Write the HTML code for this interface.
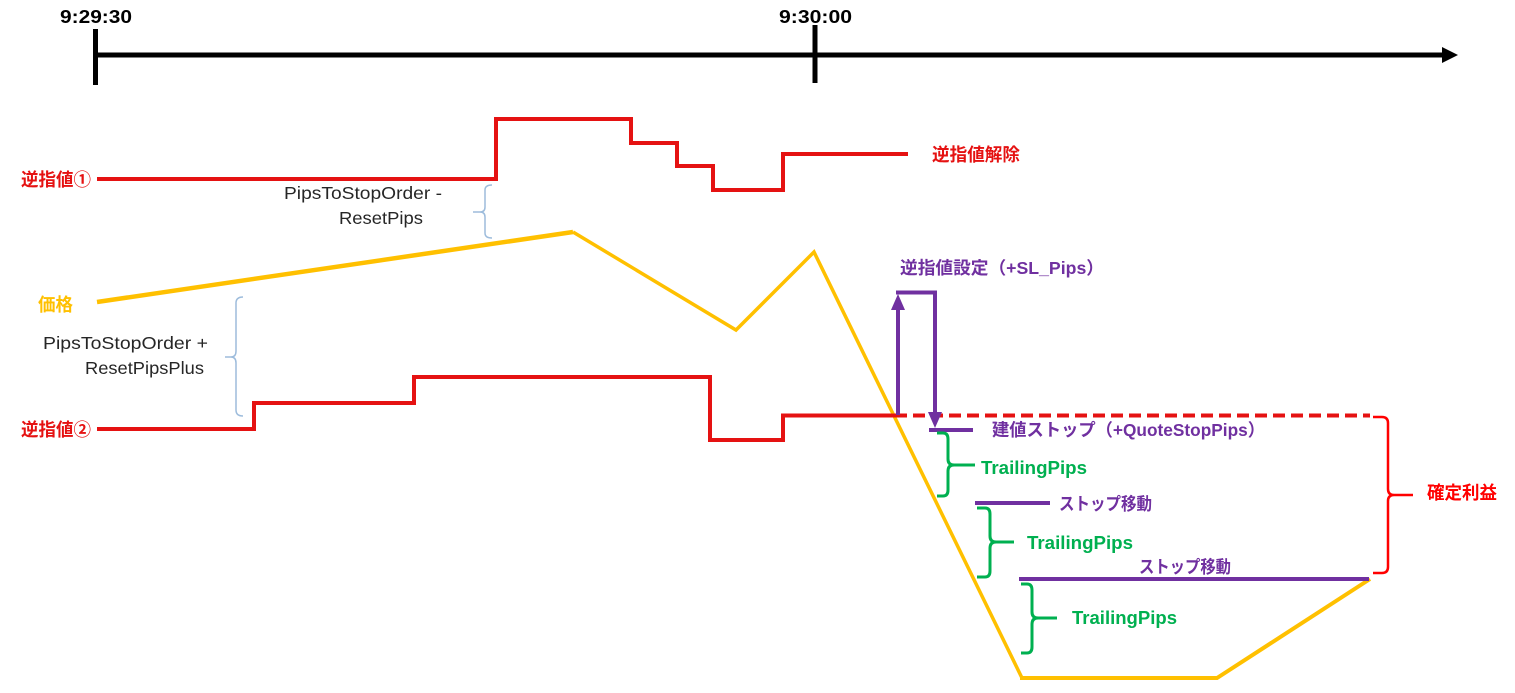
<!DOCTYPE html>
<html>
<head>
<meta charset="utf-8">
<style>
  html,body{margin:0;padding:0;background:#fff;}
  svg{display:block;}
  text{font-family:"Liberation Sans","Noto Sans CJK JP",sans-serif;dominant-baseline:central;}
  .b{font-weight:bold;}
  .g{fill:#262626;font-size:17.5px;}
</style>
</head>
<body>
<svg width="1515" height="693" viewBox="0 0 1515 693" xmlns="http://www.w3.org/2000/svg">
  <!-- Timeline -->
  <line x1="95" y1="55" x2="1444" y2="55" stroke="#000" stroke-width="5"/>
  <polygon points="1442,47 1458,55 1442,63" fill="#000"/>
  <line x1="95.5" y1="29" x2="95.5" y2="85" stroke="#000" stroke-width="5"/>
  <line x1="815" y1="25" x2="815" y2="83" stroke="#000" stroke-width="5"/>
  <text class="b" x="60" y="17" font-size="18" textLength="72" lengthAdjust="spacingAndGlyphs">9:29:30</text>
  <text class="b" x="779" y="17" font-size="18" textLength="73" lengthAdjust="spacingAndGlyphs">9:30:00</text>

  <!-- Stop order 1 -->
  <polyline points="97,179 496,179 496,119 631,119 631,143 677,143 677,166 713,166 713,190 783,190 783,154 908,154" fill="none" stroke="#e51212" stroke-width="4"/>
  <text class="b" x="21" y="180" font-size="18" fill="#e51212" textLength="70" lengthAdjust="spacingAndGlyphs">逆指値①</text>
  <text class="b" x="932" y="155" font-size="18" fill="#e51212" textLength="88" lengthAdjust="spacingAndGlyphs">逆指値解除</text>

  <!-- Blue brace A -->
  <path d="M492,185 Q485,185 485,190 L485,207 Q485,212 480,212 L473,212 M480,212 Q485,212 485,217 L485,233 Q485,238 492,238" fill="none" stroke="#9dbcdc" stroke-width="1.5"/>
  <text class="g" x="284" y="193" textLength="158" lengthAdjust="spacingAndGlyphs">PipsToStopOrder -</text>
  <text class="g" x="339" y="218" textLength="84" lengthAdjust="spacingAndGlyphs">ResetPips</text>

  <!-- Price -->
  <line x1="97" y1="302" x2="573" y2="232" stroke="#ffc000" stroke-width="4.5"/>
  <polyline points="573,232 736,330 814,252 1022,678" fill="none" stroke="#ffc000" stroke-width="3.5" stroke-linejoin="miter"/>
  <polyline points="1020,678 1217,678 1370,579" fill="none" stroke="#ffc000" stroke-width="4"/>
  <text class="b" x="38" y="305" font-size="18" fill="#ffc000" textLength="35" lengthAdjust="spacingAndGlyphs">価格</text>

  <!-- Blue brace B -->
  <path d="M243,297 Q236,297 236,303 L236,351 Q236,357 231,357 L225,357 M231,357 Q236,357 236,363 L236,410 Q236,416 243,416" fill="none" stroke="#9dbcdc" stroke-width="1.5"/>
  <text class="g" x="43" y="343" textLength="165" lengthAdjust="spacingAndGlyphs">PipsToStopOrder +</text>
  <text class="g" x="85" y="368" textLength="119" lengthAdjust="spacingAndGlyphs">ResetPipsPlus</text>

  <!-- Stop order 2 -->
  <polyline points="97,429 254,429 254,403 414,403 414,377 710,377 710,440 783,440 783,415.5 895,415.5" fill="none" stroke="#e51212" stroke-width="4"/>
  <line x1="895" y1="415.5" x2="1370" y2="415.5" stroke="#e51212" stroke-width="4" stroke-dasharray="12 6"/>
  <text class="b" x="21" y="430" font-size="18" fill="#e51212" textLength="70" lengthAdjust="spacingAndGlyphs">逆指値②</text>

  <!-- Red bracket -->
  <path d="M1373,417 L1382,417 Q1388,417 1388,423 L1388,489 Q1388,495 1394,495 L1413,495 M1394,495 Q1388,495 1388,501 L1388,567 Q1388,573 1382,573 L1373,573" fill="none" stroke="#ff0000" stroke-width="2.5"/>
  <text class="b" x="1427" y="493" font-size="18" fill="#ff0000" textLength="70" lengthAdjust="spacingAndGlyphs">確定利益</text>

  <!-- Purple SL arrows -->
  <line x1="898" y1="415" x2="898" y2="306" stroke="#7030a0" stroke-width="4"/>
  <polygon points="891,310 898,294 905,310" fill="#7030a0"/>
  <line x1="896" y1="292.5" x2="937" y2="292.5" stroke="#7030a0" stroke-width="4"/>
  <line x1="935" y1="291" x2="935" y2="414" stroke="#7030a0" stroke-width="4"/>
  <polygon points="928,412 935,428 942,412" fill="#7030a0"/>
  <text class="b" x="900" y="268" font-size="17.5" fill="#7030a0" textLength="204" lengthAdjust="spacingAndGlyphs">逆指値設定（+SL_Pips）</text>

  <line x1="929" y1="430" x2="973" y2="430" stroke="#7030a0" stroke-width="4"/>
  <text class="b" x="992" y="430" font-size="17.5" fill="#7030a0" textLength="273" lengthAdjust="spacingAndGlyphs">建値ストップ（+QuoteStopPips）</text>

  <line x1="975" y1="503" x2="1050" y2="503" stroke="#7030a0" stroke-width="4"/>
  <text class="b" x="1059" y="504" font-size="17.5" fill="#7030a0" textLength="93" lengthAdjust="spacingAndGlyphs">ストップ移動</text>

  <line x1="1019" y1="579" x2="1369" y2="579" stroke="#7030a0" stroke-width="4"/>
  <text class="b" x="1139" y="567" font-size="17.5" fill="#7030a0" textLength="92" lengthAdjust="spacingAndGlyphs">ストップ移動</text>

  <!-- Green braces -->
  <path d="M937,433 L943,433 Q948,433 948,439 L948,459 Q948,465 954,465 L975,465 M954,465 Q948,465 948,471 L948,490 Q948,496 943,496 L937,496" fill="none" stroke="#00b050" stroke-width="3"/>
  <text class="b" x="981" y="468" font-size="18" fill="#00b050" textLength="106" lengthAdjust="spacingAndGlyphs">TrailingPips</text>

  <path d="M977,508 L985,508 Q990,508 990,514 L990,536 Q990,542 996,542 L1014,542 M996,542 Q990,542 990,548 L990,571 Q990,577 985,577 L977,577" fill="none" stroke="#00b050" stroke-width="3"/>
  <text class="b" x="1027" y="543" font-size="18" fill="#00b050" textLength="106" lengthAdjust="spacingAndGlyphs">TrailingPips</text>

  <path d="M1021,584 L1027,584 Q1032,584 1032,590 L1032,612 Q1032,618 1038,618 L1057,618 M1038,618 Q1032,618 1032,624 L1032,647 Q1032,653 1027,653 L1021,653" fill="none" stroke="#00b050" stroke-width="3"/>
  <text class="b" x="1072" y="618" font-size="18" fill="#00b050" textLength="105" lengthAdjust="spacingAndGlyphs">TrailingPips</text>
</svg>
</body>
</html>
